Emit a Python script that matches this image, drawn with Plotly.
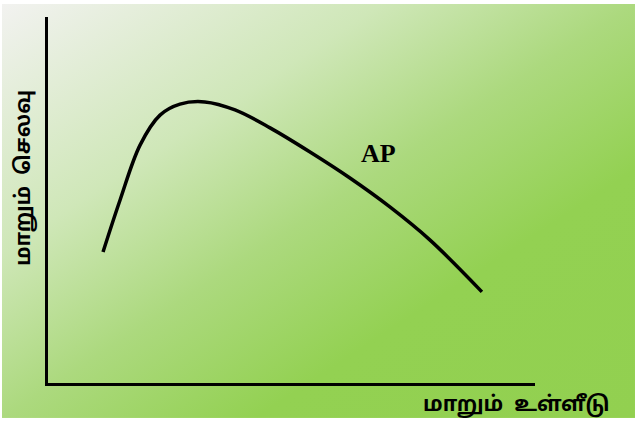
import base64
import plotly.graph_objects as go

# curve points (input level vs average product)
input_x = [1.13, 1.48, 1.89, 2.30, 2.71, 3.22, 3.84, 4.56, 5.38, 6.20, 7.02, 7.84, 8.91]
ap_y = [3.58, 5.00, 6.50, 7.32, 7.62, 7.68, 7.46, 6.97, 6.31, 5.60, 4.81, 3.91, 2.49]

curve_label = "AP"
x_title = "மாறும்&nbsp; உள்ளீடு"
y_title = "மாறும்&nbsp; செலவு"

tamil_font = "Noto Sans Tamil, Latha, Noto Sans, DejaVu Sans, sans-serif"

# diagonal gradient background as an svg image
svg = '''<svg xmlns="http://www.w3.org/2000/svg" width="633" height="414" viewBox="0 0 633 414" preserveAspectRatio="none">
<defs><linearGradient id="g" x1="0" y1="0" x2="1" y2="1">
<stop offset="0" stop-color="#f2f2f0"/>
<stop offset="0.3" stop-color="#cfe7b8"/>
<stop offset="0.5" stop-color="#acd97e"/>
<stop offset="0.7" stop-color="#93d152"/>
<stop offset="1" stop-color="#92d050"/>
</linearGradient></defs>
<rect x="0" y="0" width="633" height="414" fill="url(#g)"/>
</svg>'''
bg_src = "data:image/svg+xml;base64," + base64.b64encode(svg.encode()).decode()

fig = go.Figure()

fig.add_trace(go.Scatter(
    x=input_x,
    y=ap_y,
    mode='lines',
    line={'color': 'black', 'width': 3.5, 'shape': 'spline', 'smoothing': 1.0},
    hoverinfo='x+y',
    showlegend=False,
))

fig.add_annotation(x=6.78, y=6.26, xref='x', yref='y', text="<b>" + curve_label + "</b>",
                   showarrow=False, font={'family': 'Liberation Serif, Times New Roman, serif',
                                          'size': 26, 'color': 'black'})

fig.add_annotation(x=-0.078, y=0.56, xref='paper', yref='paper', text="<b>" + y_title + "</b>",
                   textangle=-90, showarrow=False,
                   font={'family': tamil_font, 'size': 21, 'color': 'black'})

fig.add_annotation(x=1.158, y=-0.103, xref='paper', yref='paper', text="<b>" + x_title + "</b>",
                   showarrow=False, font={'family': tamil_font, 'size': 21, 'color': 'black'})

fig.add_layout_image(
    source=bg_src, xref='paper', yref='paper',
    x=-0.0945, y=1.0355, sizex=1.2998, sizey=1.131,
    xanchor='left', yanchor='top', sizing='stretch', layer='below',
)

fig.update_layout(
    width=635,
    height=425,
    margin={'l': 48, 'r': 100, 't': 17, 'b': 42},
    paper_bgcolor='white',
    plot_bgcolor='rgba(0,0,0,0)',
    xaxis={'range': [0, 10], 'showgrid': False, 'zeroline': False, 'showticklabels': False,
           'ticks': '', 'showline': True, 'linecolor': 'black', 'linewidth': 3},
    yaxis={'range': [0, 10], 'showgrid': False, 'zeroline': False, 'showticklabels': False,
           'ticks': '', 'showline': True, 'linecolor': 'black', 'linewidth': 3},
)

fig.write_html("out.html", config={'displayModeBar': False},
               post_script="document.body.style.margin='0';")
